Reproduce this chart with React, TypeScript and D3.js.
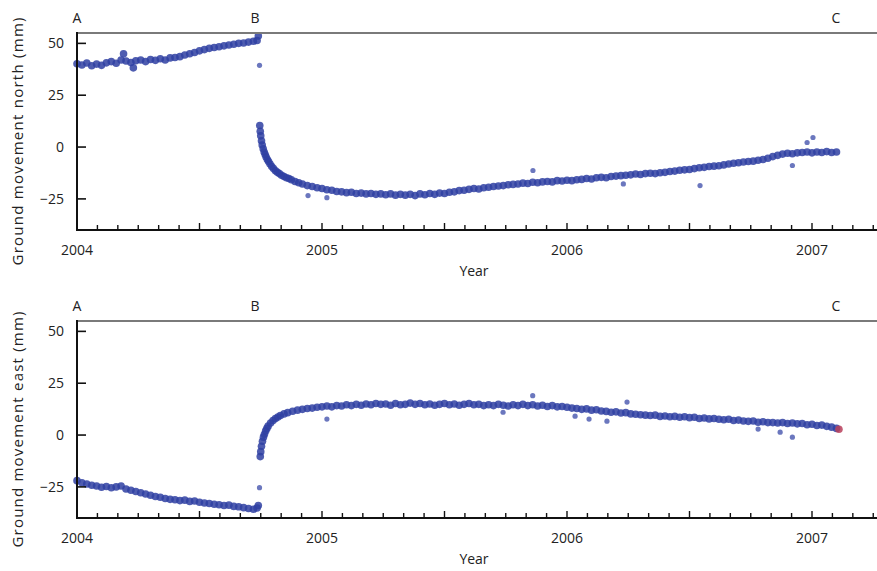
import React, { useEffect } from "react";
import * as d3 from "d3";

// GPS ground movement around the 2004 quake (decimal year, mm)
const northBefore: [number, number][] = [
  [2004.0, 40.2], [2004.02, 39.6], [2004.04, 40.5], [2004.06, 39.2], [2004.08, 40.0],
  [2004.1, 39.4], [2004.12, 40.6], [2004.14, 41.2], [2004.16, 40.4], [2004.18, 42.0],
  [2004.19, 45.0], [2004.2, 41.5], [2004.22, 40.8], [2004.23, 38.2], [2004.24, 41.6],
  [2004.26, 42.0], [2004.28, 41.2], [2004.3, 42.2], [2004.32, 41.8], [2004.34, 42.6],
  [2004.36, 42.0], [2004.38, 43.0], [2004.4, 43.2], [2004.42, 43.6], [2004.44, 44.4],
  [2004.46, 45.0], [2004.48, 45.6], [2004.5, 46.4], [2004.52, 47.0], [2004.54, 47.6],
  [2004.56, 48.0], [2004.58, 48.4], [2004.6, 48.8], [2004.62, 49.2], [2004.64, 49.6],
  [2004.66, 50.0], [2004.68, 50.2], [2004.7, 50.6], [2004.72, 51.0], [2004.735, 51.4],
  [2004.74, 53.6],
];

const northAfter: [number, number][] = [
  [2004.746, 10.4], [2004.748, 7.6], [2004.75, 5.4], [2004.753, 3.0],
  [2004.756, 1.0], [2004.76, -0.8], [2004.764, -2.4], [2004.768, -3.6], [2004.772, -4.8],
  [2004.777, -6.0], [2004.782, -7.0], [2004.788, -8.2], [2004.795, -9.4], [2004.802, -10.4],
  [2004.81, -11.4], [2004.818, -12.2], [2004.826, -12.8], [2004.835, -13.6], [2004.845, -14.2],
  [2004.855, -14.8], [2004.865, -15.2], [2004.875, -15.8], [2004.89, -16.6], [2004.905, -17.2],
  [2004.92, -17.8], [2004.94, -18.6], [2004.96, -19.0], [2004.98, -19.6], [2005.0, -20.0],
  [2005.02, -20.6], [2005.04, -20.8], [2005.06, -21.4], [2005.08, -21.6], [2005.1, -22.0],
  [2005.12, -21.8], [2005.14, -22.4], [2005.16, -22.2], [2005.18, -22.6], [2005.2, -22.4],
  [2005.22, -22.8], [2005.24, -22.6], [2005.26, -23.0], [2005.28, -22.6], [2005.3, -23.2],
  [2005.32, -22.8], [2005.34, -23.2], [2005.36, -22.8], [2005.38, -23.4], [2005.4, -22.6],
  [2005.42, -23.0], [2005.44, -22.4], [2005.46, -22.8], [2005.48, -22.2], [2005.5, -22.4],
  [2005.52, -21.8], [2005.54, -21.6], [2005.56, -21.0], [2005.58, -20.8], [2005.6, -20.4],
  [2005.62, -20.0], [2005.64, -20.2], [2005.66, -19.6], [2005.68, -19.4], [2005.7, -19.0],
  [2005.72, -18.8], [2005.74, -18.6], [2005.76, -18.2], [2005.78, -18.0], [2005.8, -17.8],
  [2005.82, -17.4], [2005.84, -17.6], [2005.86, -17.0], [2005.88, -17.2], [2005.9, -16.8],
  [2005.92, -16.6], [2005.94, -16.8], [2005.96, -16.2], [2005.98, -16.4], [2006.0, -16.0],
  [2006.02, -16.2], [2006.04, -15.8], [2006.06, -15.6], [2006.08, -15.2], [2006.1, -15.4],
  [2006.12, -14.8], [2006.14, -14.6], [2006.16, -14.8], [2006.18, -14.2], [2006.2, -14.0],
  [2006.22, -13.8], [2006.24, -13.6], [2006.26, -13.4], [2006.28, -13.0], [2006.3, -13.2],
  [2006.32, -12.8], [2006.34, -12.6], [2006.36, -12.8], [2006.38, -12.4], [2006.4, -12.2],
  [2006.42, -11.8], [2006.44, -11.6], [2006.46, -11.2], [2006.48, -11.0], [2006.5, -10.8],
  [2006.52, -10.4], [2006.54, -10.0], [2006.56, -9.8], [2006.58, -9.4], [2006.6, -9.2],
  [2006.62, -9.0], [2006.64, -8.6], [2006.66, -8.2], [2006.68, -7.8], [2006.7, -7.6],
  [2006.72, -7.2], [2006.74, -7.0], [2006.76, -6.8], [2006.78, -6.4], [2006.8, -6.0],
  [2006.82, -5.4], [2006.84, -4.6], [2006.86, -4.0], [2006.88, -3.4], [2006.9, -3.0],
  [2006.92, -3.2], [2006.94, -2.8], [2006.96, -2.6], [2006.98, -2.4], [2007.0, -2.8],
  [2007.02, -2.4], [2007.04, -2.6], [2007.06, -2.2], [2007.08, -2.6], [2007.1, -2.4],
];

const northOdd: [number, number][] = [
  [2004.745, 39.4], [2004.943, -23.4], [2005.02, -24.4], [2005.861, -11.3], [2006.23, -17.8],
  [2006.543, -18.6], [2006.92, -8.9], [2006.98, 2.2], [2007.004, 4.6],
];

const eastBefore: [number, number][] = [
  [2004.0, -22.0], [2004.02, -23.0], [2004.04, -23.6], [2004.06, -24.2], [2004.08, -24.6],
  [2004.1, -25.2], [2004.12, -24.8], [2004.14, -25.4], [2004.16, -25.0], [2004.18, -24.6],
  [2004.2, -26.0], [2004.22, -26.6], [2004.24, -27.2], [2004.26, -27.8], [2004.28, -28.4],
  [2004.3, -29.0], [2004.32, -29.6], [2004.34, -30.0], [2004.36, -30.6], [2004.38, -31.0],
  [2004.4, -31.2], [2004.42, -31.6], [2004.44, -31.4], [2004.46, -32.0], [2004.48, -31.8],
  [2004.5, -32.4], [2004.52, -32.8], [2004.54, -33.0], [2004.56, -33.4], [2004.58, -33.6],
  [2004.6, -34.0], [2004.62, -33.8], [2004.64, -34.4], [2004.66, -34.6], [2004.68, -35.0],
  [2004.7, -35.4], [2004.72, -35.8], [2004.735, -35.2], [2004.74, -34.0],
];

const eastAfter: [number, number][] = [
  [2004.748, -10.4], [2004.75, -8.0], [2004.753, -5.4], [2004.757, -3.0],
  [2004.761, -1.0], [2004.765, 0.4], [2004.77, 2.0], [2004.775, 3.2], [2004.78, 4.3],
  [2004.79, 5.8], [2004.8, 7.0], [2004.81, 8.0], [2004.82, 8.7], [2004.83, 9.4],
  [2004.845, 10.2], [2004.86, 10.8], [2004.88, 11.5], [2004.9, 12.0], [2004.92, 12.4],
  [2004.94, 12.8], [2004.96, 13.0], [2004.98, 13.4], [2005.0, 13.6], [2005.02, 14.0],
  [2005.04, 13.6], [2005.06, 14.2], [2005.08, 14.0], [2005.1, 14.6], [2005.12, 14.2],
  [2005.14, 14.8], [2005.16, 14.4], [2005.18, 15.0], [2005.2, 14.6], [2005.22, 15.2],
  [2005.24, 14.8], [2005.26, 15.0], [2005.28, 14.4], [2005.3, 15.2], [2005.32, 14.6],
  [2005.34, 14.8], [2005.36, 15.4], [2005.38, 14.8], [2005.4, 15.2], [2005.42, 14.6],
  [2005.44, 15.0], [2005.46, 14.4], [2005.48, 14.8], [2005.5, 15.2], [2005.52, 14.6],
  [2005.54, 15.0], [2005.56, 14.4], [2005.58, 14.8], [2005.6, 15.2], [2005.62, 14.6],
  [2005.64, 14.8], [2005.66, 14.2], [2005.68, 14.6], [2005.7, 14.2], [2005.72, 14.8],
  [2005.74, 14.4], [2005.76, 14.0], [2005.78, 14.6], [2005.8, 14.2], [2005.82, 14.8],
  [2005.84, 14.2], [2005.86, 14.6], [2005.88, 14.0], [2005.9, 14.4], [2005.92, 13.8],
  [2005.94, 14.2], [2005.96, 13.6], [2005.98, 13.8], [2006.0, 13.4], [2006.02, 13.0],
  [2006.04, 12.8], [2006.06, 12.4], [2006.08, 12.6], [2006.1, 12.0], [2006.12, 12.2],
  [2006.14, 11.6], [2006.16, 11.4], [2006.18, 11.0], [2006.2, 11.2], [2006.22, 10.6],
  [2006.24, 10.8], [2006.26, 10.2], [2006.28, 10.0], [2006.3, 9.8], [2006.32, 9.6],
  [2006.34, 9.4], [2006.36, 9.6], [2006.38, 9.0], [2006.4, 9.2], [2006.42, 8.8],
  [2006.44, 9.0], [2006.46, 8.6], [2006.48, 8.8], [2006.5, 8.4], [2006.52, 8.6],
  [2006.54, 8.0], [2006.56, 8.2], [2006.58, 7.8], [2006.6, 8.0], [2006.62, 7.6],
  [2006.64, 7.4], [2006.66, 7.6], [2006.68, 7.0], [2006.7, 7.2], [2006.72, 6.8],
  [2006.74, 6.6], [2006.76, 6.8], [2006.78, 6.2], [2006.8, 6.4], [2006.82, 6.0],
  [2006.84, 6.0], [2006.86, 5.8], [2006.88, 6.0], [2006.9, 5.6], [2006.92, 5.8],
  [2006.94, 5.4], [2006.96, 5.6], [2006.98, 5.0], [2007.0, 5.2], [2007.02, 4.6],
  [2007.04, 4.8], [2007.06, 4.2], [2007.08, 3.8], [2007.1, 3.2], [2007.11, 2.8],
];

const eastOdd: [number, number][] = [
  [2004.745, -25.4], [2005.02, 7.7], [2005.739, 11.0], [2005.86, 19.0], [2006.033, 9.1],
  [2006.09, 7.7], [2006.163, 6.7], [2006.245, 15.9], [2006.78, 2.9], [2006.87, 1.4],
  [2006.92, -1.0],
];

const yTicks = [50, 25, 0, -25];
const yearTicks = [2004, 2005, 2006, 2007];
const markers = [
  { label: "A", t: 2004.0 },
  { label: "B", t: 2004.727 },
  { label: "C", t: 2007.098 },
];

const W = 877;
const H = 571;
const left = 77;
const font = "'Open Sans', 'Noto Sans', sans-serif";
const ink = "#222";

const x = d3.scaleLinear().domain([2004, 2004 + (W - left) / 245]).range([left, W]);
const months = d3.range(0, 40).map((m) => 2004 + m / 12).filter((t) => x(t) <= W);

function Panel({ top, bottom, title, titleLen, pts, odd, lastRed }: any) {
  const y = d3.scaleLinear().domain([-40, 55]).range([bottom, top]);
  const mid = (top + bottom) / 2;
  return (
    <g>
      {/* scattered outliers */}
      <g>
        {odd.map((d: [number, number], i: number) => (
          <circle key={i} cx={x(d[0])} cy={y(d[1])} r={2.6} fill="#3a4aa8" fillOpacity={0.75} />
        ))}
      </g>
      {/* daily positions */}
      <g>
        {pts.map((d: [number, number], i: number) => (
          <circle
            key={i}
            cx={x(d[0])}
            cy={y(d[1])}
            r={3.8}
            fill={lastRed && i === pts.length - 1 ? "#b8405a" : "#2f3fa2"}
            fillOpacity={0.85}
          />
        ))}
      </g>
      {/* frame */}
      <line x1={left} x2={W} y1={top} y2={top} stroke="#7a7a7a" strokeWidth={2} />
      <line x1={left} x2={left} y1={top - 1} y2={bottom + 1} stroke="#111" strokeWidth={2} />
      <line x1={left} x2={W} y1={bottom} y2={bottom} stroke="#111" strokeWidth={2} />
      {months.map((t, i) => (
        <line
          key={i}
          x1={x(t)}
          x2={x(t)}
          y1={bottom}
          y2={bottom - (i % 6 === 0 ? 7 : 5)}
          stroke="#111"
          strokeWidth={1.4}
        />
      ))}
      {yTicks.map((v) => (
        <g key={v}>
          <line x1={left} x2={left + 9} y1={y(v)} y2={y(v)} stroke="#111" strokeWidth={1.6} />
          <text x={64} y={y(v)} dy="0.35em" textAnchor="end" fontSize={14} fill={ink} fontFamily={font}>
            {v < 0 ? "\u2212" + Math.abs(v) : v}
          </text>
        </g>
      ))}
      {yearTicks.map((t) => (
        <text key={t} x={x(t)} y={bottom + 25} textAnchor="middle" fontSize={14} fill={ink} fontFamily={font}>
          {t}
        </text>
      ))}
      <text x={474} y={bottom + 46} textAnchor="middle" fontSize={14} fill={ink} fontFamily={font}>
        Year
      </text>
      {markers.map((m) => (
        <text key={m.label} x={x(m.t)} y={top - 10} textAnchor="middle" fontSize={14} fill={ink} fontFamily={font}>
          {m.label}
        </text>
      ))}
      <text
        transform={`translate(23,${mid + 10}) rotate(-90)`}
        textAnchor="middle"
        fontSize={15}
        fill={ink}
        fontFamily={font}
        textLength={titleLen}
        lengthAdjust="spacing"
      >
        {title}
      </text>
    </g>
  );
}

export default function App() {
  useEffect(() => {
    document.body.style.margin = "0";
  }, []);
  return (
    <svg width={W} height={H} style={{ display: "block", background: "#fff" }}>
      <Panel
        top={33}
        bottom={230}
        title="Ground movement north (mm)"
        titleLen={248}
        pts={[...northBefore, ...northAfter]}
        odd={northOdd}
      />
      <Panel
        top={321}
        bottom={518}
        title="Ground movement east (mm)"
        titleLen={236}
        pts={[...eastBefore, ...eastAfter]}
        odd={eastOdd}
        lastRed
      />
    </svg>
  );
}
